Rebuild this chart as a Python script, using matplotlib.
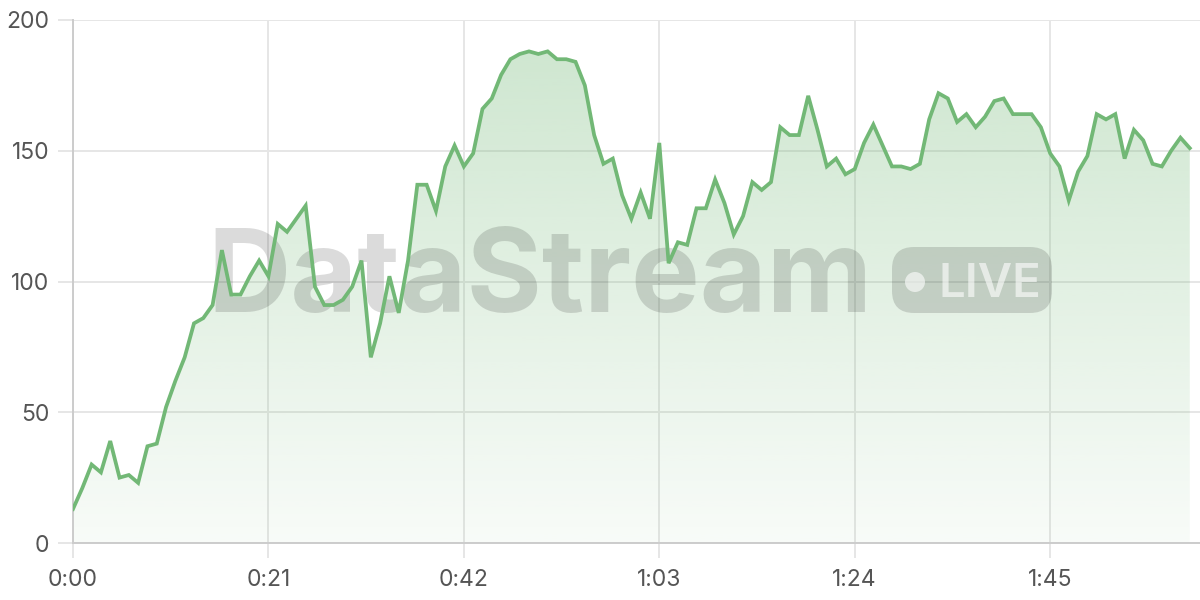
import numpy as np
import matplotlib
matplotlib.use("Agg")
import matplotlib.pyplot as plt
from matplotlib.patches import FancyBboxPatch, Circle

# Values per second, 0:00 .. 2:00
values = [
    13, 21, 30, 27, 39, 25, 26, 23, 37, 38,
    52, 62, 71, 84, 86, 91, 112, 95, 95, 102,
    108, 102, 122, 119, 124, 129, 98, 91, 91, 93,
    98, 108, 71, 84, 102, 88, 108, 137, 137, 127,
    144, 152, 144, 149, 166, 170, 179, 185, 187, 188,
    187, 188, 185, 185, 184, 175, 156, 145, 147, 133,
    124, 134, 124, 153, 107, 115, 114, 128, 128, 139,
    130, 118, 125, 138, 135, 138, 159, 156, 156, 171,
    158, 144, 147, 141, 143, 153, 160, 152, 144, 144,
    143, 145, 162, 172, 170, 161, 164, 159, 163, 169,
    170, 164, 164, 164, 159, 149, 144, 131, 142, 148,
    164, 162, 164, 147, 158, 154, 145, 144, 150, 155,
    151,
]
seconds = np.arange(len(values))
x_ticks = [0, 21, 42, 63, 84, 105]
x_labels = ["0:00", "0:21", "0:42", "1:03", "1:24", "1:45"]
y_ticks = [0, 50, 100, 150, 200]

line_color = "#72b876"
grid_color = "#e6e6e6"
label_color = "#555555"

plt.rcParams["font.family"] = ["Inter", "DejaVu Sans"]

fig = plt.figure(figsize=(12, 6), dpi=100)
ax = fig.add_axes([73 / 1200, 57 / 600, 1 - 73 / 1200, 523 / 600])
ax.set_xlim(0, 121.1)
ax.set_ylim(0, 200)

# gradient fill under the line
fill = ax.fill_between(seconds, values, 0, color="none", zorder=1)
rgb = matplotlib.colors.to_rgb(line_color)
grad = np.zeros((256, 1, 4))
grad[:, 0, :3] = rgb
grad[:, 0, 3] = np.linspace(0.36, 0.05, 256)
img = ax.imshow(grad, extent=[0, seconds[-1], 0, 200], aspect="auto",
                origin="upper", zorder=1, interpolation="bilinear")
img.set_clip_path(fill.get_paths()[0], transform=ax.transData)

ax.plot(seconds, values, color=line_color, lw=2.7, zorder=3,
        solid_joinstyle="miter")

# watermark
wm_color = (0, 0, 0, 0.14)
ax.text(2.07, 6 - 3.12, "DataStream", transform=fig.dpi_scale_trans,
        fontsize=83, fontweight="bold", color=wm_color,
        ha="left", va="baseline", zorder=2)
pill = FancyBboxPatch((8.92, 2.87), 1.60, 0.66,
                      boxstyle="round,pad=0,rounding_size=0.22",
                      transform=fig.dpi_scale_trans, facecolor=wm_color,
                      edgecolor="none", zorder=2)
ax.add_patch(pill)
ax.add_patch(Circle((9.15, 3.18), 0.10, transform=fig.dpi_scale_trans,
                    facecolor=(1, 1, 1, 0.6), edgecolor="none", zorder=2))
ax.text(9.38, 6 - 2.97, "LIVE", transform=fig.dpi_scale_trans,
        fontsize=34, fontweight="semibold", color=(1, 1, 1, 0.6),
        ha="left", va="baseline", zorder=2)

# axes styling
ax.set_xticks(x_ticks)
ax.set_xticklabels(x_labels)
ax.set_yticks(y_ticks)
ax.grid(True, color=grid_color, lw=1.4, zorder=0)
ax.set_axisbelow(True)
for side in ["top", "right"]:
    ax.spines[side].set_visible(False)
for side in ["left", "bottom"]:
    ax.spines[side].set_color("#cccccc")
    ax.spines[side].set_linewidth(1.4)
ax.tick_params(axis="both", length=11, width=1.4, color=grid_color,
               labelcolor=label_color, labelsize=16.5)
ax.tick_params(axis="x", pad=8)
ax.tick_params(axis="y", pad=6)

fig.savefig("out.png", dpi=100)
